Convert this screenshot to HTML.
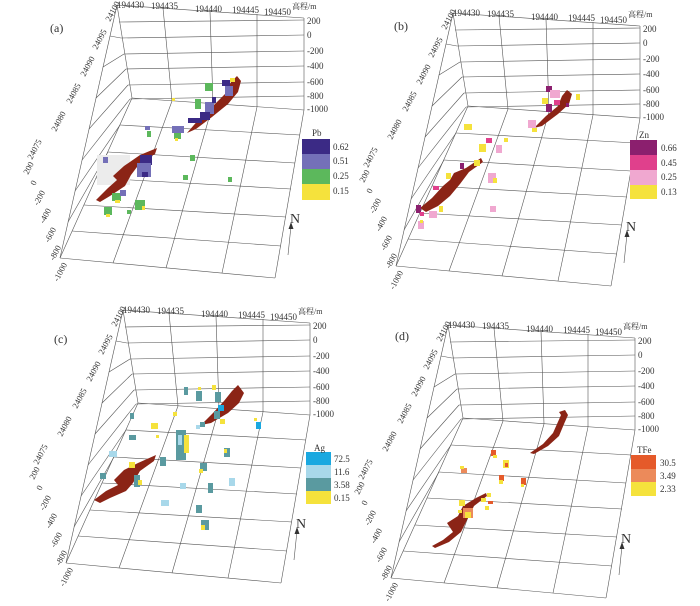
<!DOCTYPE html>
<html><head><meta charset="utf-8"><style>
body{margin:0;background:#fff}
svg{display:block}
text{font-family:"Liberation Serif","Noto Serif CJK SC",serif;fill:#333}
</style></head><body>
<svg width="700" height="606" viewBox="0 0 700 606" xmlns="http://www.w3.org/2000/svg">
<defs>
<g id="grid" stroke="#555" stroke-width="0.6" fill="none">
  <!-- top edge -->
  <line x1="117" y1="5" x2="304" y2="18"/>
  <!-- back verticals -->
  <line x1="117" y1="5" x2="132" y2="98"/>
  <line x1="163" y1="8" x2="172" y2="101"/>
  <line x1="210" y1="11" x2="213" y2="104"/>
  <line x1="257" y1="14" x2="257" y2="107"/>
  <line x1="304" y1="18" x2="304" y2="110"/>
  <!-- elevation lines -->
  <line x1="119" y1="22" x2="304" y2="20"/>
  <line x1="121" y1="38" x2="304" y2="35"/>
  <line x1="124" y1="54" x2="304" y2="51"/>
  <line x1="126" y1="69" x2="304" y2="66"/>
  <line x1="128" y1="85" x2="304" y2="82"/>
  <line x1="130" y1="99" x2="304" y2="96"/>
  <!-- floor -->
  <line x1="132" y1="98" x2="304" y2="110"/>
  <line x1="117" y1="5" x2="60" y2="258"/>
  <line x1="60" y1="258" x2="275" y2="278"/>
  <line x1="304" y1="110" x2="275" y2="278"/>
  <line x1="132" y1="98" x2="60" y2="258"/>
  <line x1="172" y1="101" x2="113" y2="263"/>
  <line x1="213" y1="104" x2="166" y2="268"/>
  <line x1="257" y1="107" x2="222" y2="273"/>
  <line x1="120" y1="125" x2="300" y2="135"/>
  <line x1="108" y1="152" x2="295" y2="163"/>
  <line x1="96" y1="178" x2="291" y2="189"/>
  <line x1="84" y1="205" x2="286" y2="217"/>
  <line x1="72" y1="231" x2="281" y2="246"/>
  <!-- left wall -->
  <line x1="110" y1="36" x2="121" y2="38"/>
  <line x1="103" y1="67" x2="124" y2="54"/>
  <line x1="96" y1="98" x2="126" y2="69"/>
  <line x1="89" y1="129" x2="128" y2="85"/>
  <line x1="82" y1="160" x2="130" y2="99"/>
  <line x1="75" y1="191" x2="120" y2="125"/>
  <line x1="68" y1="222" x2="108" y2="152"/>
  <!-- N arrow -->
  <line x1="288" y1="255" x2="291" y2="226"/>
  <path d="M291,222 L293.5,229 L288.5,229 Z" fill="#333" stroke="none"/>
</g>
<g id="labels" font-size="9">
  <text x="117" y="8">194430</text>
  <text x="151" y="9">194435</text>
  <text x="195" y="12">194440</text>
  <text x="232" y="13">194445</text>
  <text x="264" y="15">194450</text>
  <text x="292" y="9" font-size="8">高程/m</text>
  <text x="307" y="24">200</text>
  <text x="307" y="38">0</text>
  <text x="307" y="54">-200</text>
  <text x="307" y="69">-400</text>
  <text x="307" y="85">-600</text>
  <text x="307" y="99">-800</text>
  <text x="307" y="112">-1000</text>
  <text font-size="14" x="290" y="223">N</text>
  <g font-size="8.5">
  <text transform="translate(110,22) rotate(-62)">24100</text>
  <text transform="translate(97,50) rotate(-62)">24095</text>
  <text transform="translate(85,77) rotate(-62)">24090</text>
  <text transform="translate(71,104) rotate(-62)">24085</text>
  <text transform="translate(56,132) rotate(-62)">24080</text>
  <text transform="translate(32,160) rotate(-62)">24075</text>
  <text transform="translate(28,175) rotate(-62)">200</text>
  <text transform="translate(35,186) rotate(-62)">0</text>
  <text transform="translate(38,206) rotate(-62)">-200</text>
  <text transform="translate(44,224) rotate(-62)">-400</text>
  <text transform="translate(49,243) rotate(-62)">-600</text>
  <text transform="translate(54,261) rotate(-62)">-800</text>
  <text transform="translate(58,282) rotate(-62)">-1000</text>
  </g>
</g>
</defs>

<!-- Panel a -->
<g>
<use href="#grid"/><use href="#labels"/>
<text x="50" y="32" font-size="12">(a)</text>
<rect x="97" y="155" width="33" height="30" fill="#ececec"/>
<path d="M187,133 L200,118 L214,105 L226,93 L231,82 L237,76 L241,81 L238,92 L228,104 L212,117 L196,129 Z" fill="#8b2416"/>
<path d="M96,200 L108,188 L117,180 L113,176 L124,166 L140,155 L157,148 L155,154 L140,163 L131,175 L125,186 L110,196 L100,202 Z" fill="#8b2416"/>
<g>
<rect x="205" y="83" width="8" height="8" fill="#5cb85c"/><rect x="222" y="80" width="8" height="6" fill="#3b2a85"/><rect x="225" y="86" width="8" height="10" fill="#7470b8"/><rect x="230" y="78" width="5" height="4" fill="#f5e23c"/>
<rect x="195" y="99" width="6" height="10" fill="#5cb85c"/><rect x="205" y="102" width="9" height="12" fill="#7470b8"/><rect x="200" y="112" width="10" height="8" fill="#3b2a85"/><rect x="212" y="97" width="4" height="6" fill="#3b2a85"/>
<rect x="188" y="118" width="14" height="5" fill="#3b2a85"/><rect x="172" y="126" width="12" height="7" fill="#7470b8"/><rect x="174" y="133" width="7" height="6" fill="#5cb85c"/><rect x="175" y="138" width="3" height="3" fill="#f5e23c"/>
<rect x="145" y="126" width="5" height="4" fill="#7470b8"/><rect x="147" y="131" width="4" height="6" fill="#5cb85c"/><rect x="172" y="98" width="3" height="3" fill="#f5e23c"/>
<rect x="140" y="155" width="12" height="10" fill="#3b2a85"/><rect x="137" y="163" width="14" height="14" fill="#7470b8"/><rect x="142" y="172" width="6" height="5" fill="#3b2a85"/>
<rect x="190" y="155" width="5" height="6" fill="#5cb85c"/><rect x="183" y="175" width="5" height="5" fill="#5cb85c"/><rect x="228" y="177" width="4" height="5" fill="#5cb85c"/>
<rect x="103" y="157" width="5" height="6" fill="#7470b8"/>
<rect x="112" y="193" width="9" height="8" fill="#5cb85c"/><rect x="120" y="190" width="6" height="6" fill="#7470b8"/><rect x="115" y="200" width="5" height="3" fill="#f5e23c"/>
<rect x="104" y="207" width="8" height="8" fill="#5cb85c"/><rect x="106" y="214" width="4" height="3" fill="#f5e23c"/><rect x="127" y="210" width="4" height="4" fill="#5cb85c"/><rect x="135" y="200" width="10" height="10" fill="#5cb85c"/><rect x="142" y="206" width="3" height="4" fill="#f5e23c"/>
</g>
<rect x="302" y="139" width="28" height="15" fill="#3b2a85"/><rect x="302" y="154" width="28" height="15" fill="#7470b8"/><rect x="302" y="169" width="28" height="15" fill="#5cb85c"/><rect x="302" y="184" width="28" height="16" fill="#f5e23c"/>
<g font-size="9"><text x="312" y="136">Pb</text><text x="333" y="150">0.62</text><text x="333" y="164">0.51</text><text x="333" y="179">0.25</text><text x="333" y="194">0.15</text></g>
</g>

<!-- Panel b -->
<g transform="translate(336,8)">
<use href="#grid"/><use href="#labels"/>
<text x="58" y="22" font-size="12">(b)</text>
<path d="M198,120 L210,108 L222,98 L226,88 L231,82 L236,86 L233,96 L222,106 L206,118 Z" fill="#8b2416"/>
<path d="M84,200 L96,190 L107,178 L114,172 L118,165 L130,160 L145,150 L147,154 L133,164 L124,176 L114,188 L102,198 L90,204 Z" fill="#8b2416"/>
<g>
<rect x="210" y="78" width="6" height="6" fill="#8b1f6e"/><rect x="214" y="82" width="10" height="8" fill="#f0a8d0"/><rect x="206" y="90" width="6" height="6" fill="#f5e23c"/><rect x="210" y="96" width="6" height="8" fill="#8b1f6e"/><rect x="218" y="92" width="6" height="5" fill="#e0408c"/><rect x="240" y="86" width="4" height="6" fill="#f5e23c"/><rect x="230" y="95" width="3" height="4" fill="#8b1f6e"/>
<rect x="192" y="112" width="8" height="8" fill="#f0a8d0"/><rect x="196" y="120" width="5" height="4" fill="#f5e23c"/>
<rect x="128" y="116" width="8" height="6" fill="#f5e23c"/><rect x="150" y="130" width="6" height="5" fill="#e0408c"/><rect x="143" y="136" width="7" height="8" fill="#f5e23c"/><rect x="160" y="137" width="6" height="8" fill="#f0a8d0"/><rect x="168" y="130" width="4" height="4" fill="#f5e23c"/>
<rect x="138" y="152" width="6" height="6" fill="#f5e23c"/><rect x="124" y="155" width="4" height="6" fill="#8b1f6e"/><rect x="152" y="165" width="8" height="10" fill="#f0a8d0"/><rect x="157" y="170" width="4" height="5" fill="#f5e23c"/>
<rect x="110" y="165" width="5" height="6" fill="#f5e23c"/><rect x="97" y="178" width="6" height="4" fill="#e0408c"/><rect x="154" y="198" width="6" height="6" fill="#f0a8d0"/>
<rect x="80" y="197" width="5" height="8" fill="#8b1f6e"/><rect x="84" y="204" width="4" height="4" fill="#e0408c"/><rect x="93" y="203" width="8" height="7" fill="#f0a8d0"/><rect x="103" y="198" width="4" height="6" fill="#f5e23c"/><rect x="82" y="213" width="6" height="8" fill="#f0a8d0"/><rect x="84" y="212" width="3" height="3" fill="#f5e23c"/>
</g>
<rect x="294" y="132" width="27" height="15" fill="#8b1f6e"/><rect x="294" y="147" width="27" height="15" fill="#e0408c"/><rect x="294" y="162" width="27" height="15" fill="#f0a8d0"/><rect x="294" y="177" width="27" height="14" fill="#f5e23c"/>
<g font-size="9"><text x="303" y="130">Zn</text><text x="325" y="143">0.66</text><text x="325" y="158">0.45</text><text x="325" y="172">0.25</text><text x="325" y="187">0.13</text></g>
</g>

<!-- Panel c -->
<g transform="translate(6,305)">
<use href="#grid"/><use href="#labels"/>
<text x="48" y="38" font-size="12">(c)</text>
<path d="M195,120 L207,108 L218,96 L226,86 L232,80 L238,88 L233,98 L222,108 L205,118 Z" fill="#8b2416"/>
<path d="M88,195 L100,186 L112,180 L108,175 L118,165 L132,158 L150,150 L148,156 L134,166 L127,178 L120,186 L104,193 L94,198 Z" fill="#8b2416"/>
<g>
<rect x="209" y="87" width="6" height="10" fill="#5a9aa0"/><rect x="212" y="100" width="6" height="6" fill="#1aa8e0"/><rect x="208" y="106" width="6" height="8" fill="#5a9aa0"/><rect x="206" y="80" width="4" height="5" fill="#f5e23c"/><rect x="214" y="114" width="5" height="5" fill="#f5e23c"/>
<rect x="178" y="82" width="4" height="8" fill="#5a9aa0"/><rect x="190" y="86" width="6" height="10" fill="#5a9aa0"/><rect x="192" y="82" width="3" height="3" fill="#f5e23c"/><rect x="250" y="117" width="5" height="7" fill="#1aa8e0"/><rect x="248" y="113" width="3" height="3" fill="#f5e23c"/>
<rect x="167" y="107" width="4" height="4" fill="#f5e23c"/><rect x="124" y="108" width="4" height="6" fill="#5a9aa0"/><rect x="145" y="118" width="7" height="6" fill="#f5e23c"/><rect x="123" y="130" width="7" height="5" fill="#5a9aa0"/><rect x="150" y="130" width="3" height="3" fill="#f5e23c"/>
<rect x="170" y="125" width="10" height="30" fill="#5a9aa0"/><rect x="172" y="130" width="4" height="10" fill="#a8d8ea"/><rect x="178" y="130" width="5" height="18" fill="#f5e23c"/><rect x="190" y="120" width="4" height="4" fill="#a8d8ea"/><rect x="194" y="117" width="5" height="5" fill="#5a9aa0"/>
<rect x="154" y="152" width="6" height="9" fill="#5a9aa0"/><rect x="194" y="158" width="7" height="8" fill="#5a9aa0"/><rect x="193" y="164" width="4" height="4" fill="#f5e23c"/><rect x="218" y="143" width="6" height="9" fill="#5a9aa0"/><rect x="218" y="144" width="3" height="4" fill="#f5e23c"/>
<rect x="103" y="146" width="8" height="6" fill="#a8d8ea"/><rect x="123" y="157" width="6" height="6" fill="#f5e23c"/><rect x="94" y="168" width="6" height="6" fill="#5a9aa0"/><rect x="128" y="170" width="6" height="12" fill="#5a9aa0"/><rect x="132" y="175" width="4" height="5" fill="#f5e23c"/>
<rect x="174" y="178" width="6" height="6" fill="#a8d8ea"/><rect x="155" y="195" width="8" height="6" fill="#a8d8ea"/><rect x="202" y="178" width="5" height="10" fill="#5a9aa0"/><rect x="223" y="173" width="6" height="8" fill="#a8d8ea"/><rect x="190" y="200" width="6" height="8" fill="#5a9aa0"/><rect x="195" y="215" width="8" height="10" fill="#5a9aa0"/><rect x="195" y="220" width="4" height="5" fill="#f5e23c"/>
</g>
<rect x="300" y="147" width="25" height="13" fill="#1aa8e0"/><rect x="300" y="160" width="25" height="13" fill="#a8d8ea"/><rect x="300" y="173" width="25" height="13" fill="#5a9aa0"/><rect x="300" y="186" width="25" height="13" fill="#f5e23c"/>
<g font-size="9"><text x="308" y="146">Ag</text><text x="328" y="157">72.5</text><text x="328" y="170">11.6</text><text x="328" y="183">3.58</text><text x="328" y="196">0.15</text></g>
</g>

<!-- Panel d -->
<g transform="translate(331,320)">
<use href="#grid"/><use href="#labels"/>
<text x="64" y="20" font-size="12">(d)</text>
<path d="M199,133 L212,124 L222,113 L226,104 L230,95 L228,92 L234,90 L237,95 L233,104 L228,116 L217,126 L203,134 Z" fill="#8b2416"/>
<path d="M101,226 L112,220 L122,212 L116,203 L127,196 L132,186 L145,178 L155,173 L156,176 L143,186 L136,200 L130,212 L118,222 L104,228 Z" fill="#8b2416"/>
<g>
<rect x="160" y="130" width="5" height="6" fill="#e55a2a"/><rect x="162" y="135" width="4" height="3" fill="#f5e23c"/><rect x="172" y="140" width="6" height="8" fill="#f5e23c"/><rect x="174" y="143" width="3" height="4" fill="#e55a2a"/>
<rect x="130" y="148" width="6" height="5" fill="#ec8a5a"/><rect x="129" y="146" width="4" height="3" fill="#f5e23c"/><rect x="168" y="155" width="5" height="6" fill="#e55a2a"/><rect x="168" y="160" width="4" height="4" fill="#f5e23c"/><rect x="190" y="158" width="5" height="7" fill="#e55a2a"/><rect x="190" y="164" width="3" height="3" fill="#f5e23c"/>
<rect x="156" y="173" width="4" height="4" fill="#f5e23c"/><rect x="150" y="178" width="5" height="4" fill="#f5e23c"/><rect x="157" y="181" width="5" height="3" fill="#e55a2a"/><rect x="154" y="186" width="4" height="4" fill="#f5e23c"/>
<rect x="128" y="180" width="6" height="6" fill="#f5e23c"/><rect x="132" y="188" width="10" height="10" fill="#ec8a5a"/><rect x="134" y="192" width="6" height="6" fill="#f5e23c"/><rect x="127" y="190" width="4" height="3" fill="#f5e23c"/>
</g>
<rect x="300" y="135" width="25" height="14" fill="#e55a2a"/><rect x="300" y="149" width="25" height="13" fill="#ec8a5a"/><rect x="300" y="162" width="25" height="14" fill="#f5e23c"/>
<g font-size="9"><text x="306" y="133">TFe</text><text x="329" y="146">30.5</text><text x="329" y="159">3.49</text><text x="329" y="172">2.33</text></g>
</g>
</svg>
</body></html>
